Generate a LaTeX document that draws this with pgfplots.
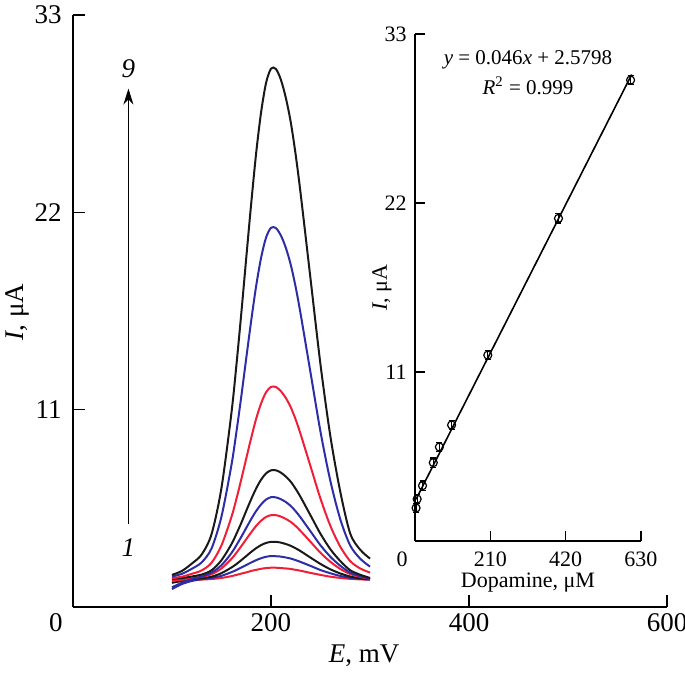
\documentclass[border=0pt]{standalone}
\usepackage{fontspec}
\setmainfont{Liberation Serif}
\usepackage{pgfplots}
\pgfplotsset{compat=1.18}
\usetikzlibrary{arrows.meta}
\definecolor{cvBlue}{RGB}{45,45,165}
\definecolor{cvRed}{RGB}{240,30,55}
\definecolor{cvBlack}{RGB}{25,25,25}

\newcommand{\mainfs}{\fontsize{13.5}{16}\selectfont}
\newcommand{\insfs}{\fontsize{11}{13}\selectfont}

\pgfplotsset{
  dpv/.style={
    scale only axis,
    enlargelimits=false,
    clip=false,
    axis x line*=bottom, axis y line*=left,
    axis line style={-, line width=0.7pt},
    tick align=inside,
    tick style={black, line width=0.7pt},
    /pgf/number format/assume math mode=true,
  },
  cv/.style={smooth, tension=0.5, line width=1pt, no marks},
}

\begin{document}
\begin{tikzpicture}
\useasboundingbox (-36.5pt,-34.5pt) rectangle (306pt,303.5pt);

% main voltammograms
\begin{axis}[dpv,
  at={(0,0)}, anchor=south west,
  width=297pt, height=296pt,
  xmin=0, xmax=600, ymin=0, ymax=33,
  xtick={200,400,600}, ytick={11,22,33},
  major tick length=6pt,
  xticklabel style={font=\mainfs, anchor=base, inner sep=0pt, yshift=-12.3pt},
  yticklabel style={font=\mainfs, anchor=east, inner sep=0pt, xshift=-5.5pt},
  xlabel={\textit{E}, mV}, ylabel={\textit{I}, μA},
  every axis x label/.style={at={(axis description cs:0.49,0)}, anchor=base, inner sep=0pt, yshift=-27.5pt, font=\mainfs},
  every axis y label/.style={at={(axis description cs:-0.0943,0.498)}, anchor=center, rotate=90, inner sep=0pt, font=\mainfs},
]
% 1
\addplot[cv, cvRed] coordinates {
(100,1.40) (110,1.46) (120,1.50) (130,1.53) (140,1.56) (150,1.62) (160,1.72) (165,1.79) (170,1.86) (175,1.93) (180,2.01) (185,2.07) (190,2.13) (195,2.17) (200,2.19) (205,2.19) (210,2.17) (215,2.15) (220,2.12) (225,2.07) (230,2.02) (240,1.90) (250,1.79) (260,1.69) (270,1.62) (280,1.57) (290,1.54) (300,1.52)};
% 2
\addplot[cv, cvBlue] coordinates {
(100,1.00) (110,1.28) (120,1.45) (130,1.55) (140,1.62) (150,1.74) (160,1.94) (165,2.06) (170,2.20) (175,2.34) (180,2.48) (185,2.61) (190,2.72) (195,2.80) (200,2.84) (205,2.83) (210,2.81) (215,2.76) (220,2.70) (225,2.61) (230,2.51) (240,2.29) (250,2.06) (260,1.88) (270,1.73) (280,1.63) (290,1.57) (300,1.53)};
% 3
\addplot[cv, cvBlack] coordinates {
(100,1.35) (110,1.45) (120,1.55) (130,1.61) (140,1.69) (150,1.89) (160,2.20) (165,2.39) (170,2.61) (175,2.84) (180,3.07) (185,3.28) (190,3.45) (195,3.57) (200,3.63) (205,3.63) (210,3.59) (215,3.51) (220,3.41) (225,3.27) (230,3.11) (240,2.75) (250,2.40) (260,2.10) (270,1.87) (280,1.70) (290,1.60) (300,1.55)};
% 4
\addplot[cv, cvRed] coordinates {
(100,1.45) (110,1.52) (120,1.60) (130,1.68) (140,1.83) (150,2.15) (160,2.68) (165,3.02) (170,3.39) (175,3.78) (180,4.16) (185,4.52) (190,4.81) (195,5.02) (200,5.12) (205,5.12) (210,5.04) (215,4.91) (220,4.74) (225,4.51) (230,4.23) (240,3.63) (250,3.02) (260,2.52) (270,2.12) (280,1.84) (290,1.68) (300,1.57)};
% 5
\addplot[cv, cvBlue] coordinates {
(100,1.10) (110,1.35) (120,1.55) (130,1.70) (140,1.92) (150,2.33) (160,3.00) (165,3.44) (170,3.91) (175,4.41) (180,4.90) (185,5.35) (190,5.72) (195,5.99) (200,6.12) (205,6.11) (210,6.01) (215,5.85) (220,5.63) (225,5.33) (230,4.98) (240,4.21) (250,3.44) (260,2.80) (270,2.30) (280,1.92) (290,1.72) (300,1.58)};
% 6
\addplot[cv, cvBlack] coordinates {
(100,1.56) (110,1.61) (120,1.70) (130,1.81) (140,2.05) (150,2.61) (160,3.50) (165,4.07) (170,4.69) (175,5.36) (180,6.01) (185,6.61) (190,7.10) (195,7.45) (200,7.62) (205,7.62) (210,7.49) (215,7.27) (220,6.98) (225,6.58) (230,6.12) (240,5.10) (250,4.08) (260,3.22) (270,2.56) (280,2.05) (290,1.80) (300,1.62)};
% 7
\addplot[cv, cvRed] coordinates {
(100,1.61) (110,1.69) (120,1.85) (130,2.04) (140,2.47) (150,3.44) (160,5.01) (165,6.01) (170,7.12) (175,8.28) (180,9.43) (185,10.49) (190,11.35) (195,11.97) (200,12.27) (205,12.26) (210,12.03) (215,11.65) (220,11.13) (225,10.44) (230,9.62) (240,7.83) (250,6.04) (260,4.52) (270,3.36) (280,2.56) (290,2.15) (300,1.92)};
% 8
\addplot[cv, cvBlue] coordinates {
(100,1.70) (110,1.85) (120,2.13) (130,2.49) (140,3.27) (150,5.05) (160,7.90) (165,9.73) (170,11.74) (175,13.87) (180,15.96) (185,17.89) (190,19.47) (195,20.59) (200,21.14) (205,21.12) (210,20.71) (215,20.02) (220,19.07) (225,17.81) (230,16.31) (240,13.04) (250,9.77) (260,7.02) (270,4.89) (280,3.43) (290,2.70) (300,2.25)};
% 9
\addplot[cv, cvBlack] coordinates {
(100,1.79) (110,2.01) (120,2.42) (130,2.93) (140,4.07) (150,6.65) (160,10.80) (165,13.45) (170,16.37) (175,19.46) (180,22.49) (185,25.30) (190,27.58) (195,29.21) (200,30.01) (205,29.99) (210,29.39) (215,28.38) (220,27.01) (225,25.18) (230,23.01) (240,18.26) (250,13.51) (260,9.51) (270,6.42) (280,4.10) (290,3.20) (300,2.70)};

\draw[-{Stealth[length=8pt,width=5pt]}, line width=0.7pt] (axis cs:56,4.6) -- (axis cs:56,28.9);
\node[font=\mainfs\itshape] at (axis cs:56,30.0) {9};
\node[font=\mainfs\itshape] at (axis cs:56,3.3) {1};
\node[font=\mainfs, anchor=base, inner sep=0pt] at ([xshift=-8.5pt,yshift=-12.3pt]axis cs:0,0) {0};
\end{axis}

% calibration inset
\begin{axis}[dpv,
  at={(171pt,33pt)}, anchor=south west,
  width=113pt, height=253.5pt,
  xmin=0, xmax=630, ymin=0, ymax=33,
  xtick={210,420,630}, ytick={11,22,33},
  major tick length=5pt,
  xticklabel style={font=\insfs, anchor=base, inner sep=0pt, yshift=-12.8pt},
  yticklabel style={font=\insfs, anchor=east, inner sep=0pt, xshift=-4pt},
  xlabel={Dopamine, μM}, ylabel={\textit{I}, μA},
  every axis x label/.style={at={(axis description cs:0.5,0)}, anchor=base, inner sep=0pt, yshift=-23pt, font=\insfs},
  every axis y label/.style={at={(axis description cs:-0.146,0.5)}, anchor=center, rotate=90, inner sep=0pt, font=\insfs},
]
\addplot[black, line width=0.8pt, no marks] coordinates {(3,2.72) (604,30.36)};
\addplot[black, only marks, mark=o, mark size=2pt, mark options={line width=0.6pt},
  error bars/.cd, y dir=both, y fixed=0.3,
  error bar style={line width=0.6pt},
  error mark options={rotate=90, mark size=1.5pt, line width=0.6pt}]
  coordinates {(3,2.15) (6,2.73) (21,3.6) (51,5.1) (68,6.12) (102,7.55) (203,12.1) (400,21.0) (601,30.0)};
\node[font=\fontsize{10.5}{12}\selectfont] at (axis cs:315,31.3) {\textit{y} = 0.046\textit{x} + 2.5798};
\node[font=\fontsize{10.5}{12}\selectfont] at (axis cs:315,29.6) {\textit{R}\textsuperscript{2} = 0.999};
\node[font=\insfs, anchor=base, inner sep=0pt] at ([xshift=-6.5pt,yshift=-12.8pt]axis cs:0,0) {0};
\end{axis}
\end{tikzpicture}
\end{document}
